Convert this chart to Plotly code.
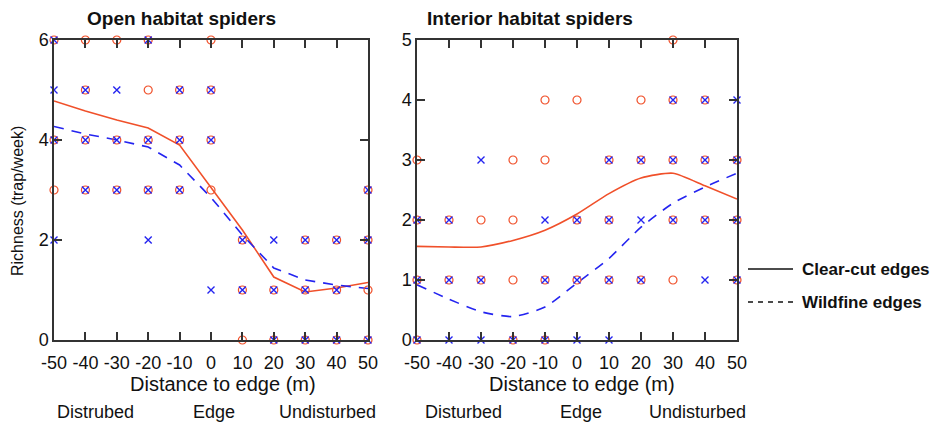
import plotly.graph_objects as go

W, H = 940, 422

distances = [-50, -40, -30, -20, -10, 0, 10, 20, 30, 40, 50]
x_tick_text = ["-50", "-40", "-30", "-20", "-10", "0", "10", "20", "30", "40", "50"]
open_y_ticks = [0, 2, 4, 6]
int_y_ticks = [0, 1, 2, 3, 4, 5]

# Open habitat spiders: individual trap richness values per distance
open_clear_pts = {-50: [6, 4, 3], -40: [6, 5, 4, 3], -30: [6, 4, 3], -20: [6, 5, 4, 3],
                  -10: [5, 4, 3], 0: [6, 5, 4, 3], 10: [2, 1, 0], 20: [1, 0],
                  30: [2, 1, 0], 40: [2, 1, 0], 50: [3, 2, 1, 0]}
open_wild_pts = {-50: [6, 5, 4, 2], -40: [5, 4, 3], -30: [5, 4, 3], -20: [6, 4, 3, 2],
                 -10: [5, 4, 3], 0: [5, 4, 1], 10: [2, 1], 20: [2, 1, 0],
                 30: [2, 1, 0], 40: [2, 1, 0], 50: [3, 2, 0]}
open_clear_fit = [4.78, 4.58, 4.40, 4.24, 3.90, 3.05, 2.20, 1.26, 0.96, 1.04, 1.15]
open_wild_fit = [4.27, 4.12, 4.00, 3.86, 3.50, 2.85, 2.10, 1.44, 1.20, 1.10, 1.03]

# Interior habitat spiders
int_clear_pts = {-50: [3, 2, 1, 0], -40: [2, 1], -30: [2, 1], -20: [3, 2, 1, 0],
                 -10: [4, 3, 1, 0], 0: [4, 2, 1], 10: [3, 2, 1], 20: [4, 3, 1],
                 30: [5, 4, 3, 2, 1], 40: [4, 3, 2], 50: [3, 2, 1]}
int_wild_pts = {-50: [2, 1, 0], -40: [2, 1, 0], -30: [3, 1, 0], -20: [0],
                -10: [2, 1, 0], 0: [2, 1, 0], 10: [3, 2, 1, 0], 20: [3, 2, 1],
                30: [4, 3, 2], 40: [4, 3, 2, 1], 50: [4, 3, 2, 1]}
int_clear_fit = [1.56, 1.55, 1.55, 1.66, 1.83, 2.10, 2.44, 2.70, 2.78, 2.57, 2.35]
int_wild_fit = [0.92, 0.68, 0.47, 0.39, 0.55, 0.95, 1.36, 1.88, 2.28, 2.55, 2.78]

panel_titles = ["Open habitat spiders", "Interior habitat spiders"]
bottom_labels = [["Distrubed", "Edge", "Undisturbed"], ["Disturbed", "Edge", "Undisturbed"]]
legend_labels = ["Clear-cut edges", "Wildfine edges"]
x_title = "Distance to edge (m)"
y_title = "Richness (trap/week)"

RED = "#F0502A"
BLUE = "#2424F0"
AX = "#333333"
FONT = "Liberation Sans, Arial, sans-serif"


def flatten(d):
    xs, ys = [], []
    for k, vals in d.items():
        for v in vals:
            xs.append(k)
            ys.append(v)
    return xs, ys


fig = go.Figure()

panels = [
    ("x", "y", open_clear_pts, open_wild_pts, open_clear_fit, open_wild_fit, "linear"),
    ("x2", "y2", int_clear_pts, int_wild_pts, int_clear_fit, int_wild_fit, "spline"),
]
for xa, ya, cpts, wpts, cfit, wfit, shape in panels:
    cx, cy = flatten(cpts)
    wx, wy = flatten(wpts)
    fig.add_trace(go.Scatter(x=distances, y=cfit, mode="lines", xaxis=xa, yaxis=ya,
                             line=dict(color=RED, width=1.6, shape=shape, smoothing=0.6),
                             showlegend=False, cliponaxis=False))
    fig.add_trace(go.Scatter(x=distances, y=wfit, mode="lines", xaxis=xa, yaxis=ya,
                             line=dict(color=BLUE, width=1.6, dash="10px,8px", shape=shape, smoothing=0.6),
                             showlegend=False, cliponaxis=False))
    fig.add_trace(go.Scatter(x=cx, y=cy, mode="markers", xaxis=xa, yaxis=ya,
                             marker=dict(symbol="circle-open", size=8, color=RED,
                                         line=dict(width=1.2, color=RED)),
                             showlegend=False, cliponaxis=False))
    fig.add_trace(go.Scatter(x=wx, y=wy, mode="markers", xaxis=xa, yaxis=ya,
                             marker=dict(symbol="x-thin-open", size=7, color=BLUE,
                                         line=dict(width=1.4, color=BLUE)),
                             showlegend=False, cliponaxis=False))

ydom = [1 - 340 / H, 1 - 40 / H]
xdom1 = [54 / W, 368 / W]
xdom2 = [417 / W, 737 / W]

axis_common = dict(showline=True, linecolor=AX, linewidth=1.5, mirror="ticks",
                   ticks="inside", ticklen=8, tickwidth=1.5, tickcolor=AX,
                   showgrid=False, zeroline=False, automargin=False, tickangle=0,
                   tickfont=dict(family=FONT, size=18, color="#111111"))

fig.update_layout(
    width=W, height=H, margin=dict(l=0, r=0, t=0, b=0, autoexpand=False),
    paper_bgcolor="white", plot_bgcolor="white",
    font=dict(family=FONT, color="#111111"),
    xaxis=dict(domain=xdom1, range=[-50, 50], tickvals=distances, ticktext=x_tick_text,
               anchor="y", ticklabelstandoff=6, **axis_common),
    yaxis=dict(domain=ydom, range=[0, 6], tickvals=open_y_ticks,
               ticktext=[str(v) for v in open_y_ticks], anchor="x", **axis_common),
    xaxis2=dict(domain=xdom2, range=[-50, 50], tickvals=distances, ticktext=x_tick_text,
                anchor="y2", ticklabelstandoff=6, **axis_common),
    yaxis2=dict(domain=ydom, range=[0, 5], tickvals=int_y_ticks,
                ticktext=[str(v) for v in int_y_ticks], anchor="x2", **axis_common),
)

ann = []
# panel titles
ann.append(dict(x=85 / W, y=1 - 18 / H, text="<b>" + panel_titles[0] + "</b>", xref="paper", yref="paper",
                xanchor="left", yanchor="middle", showarrow=False, font=dict(size=19, family=FONT, color="#111")))
ann.append(dict(x=425 / W, y=1 - 18 / H, text="<b>" + panel_titles[1] + "</b>", xref="paper", yref="paper",
                xanchor="left", yanchor="middle", showarrow=False, font=dict(size=19, family=FONT, color="#111")))
# x titles
for cx in [223, 582]:
    ann.append(dict(x=cx / W, y=1 - 384 / H, text=x_title, xref="paper", yref="paper",
                    xanchor="center", yanchor="middle", showarrow=False,
                    font=dict(size=20, family=FONT, color="#111")))
# y title
ann.append(dict(x=17 / W, y=1 - 201 / H, text=y_title, textangle=-90, xref="paper", yref="paper",
                xanchor="center", yanchor="middle", showarrow=False,
                font=dict(size=16, family=FONT, color="#111")))
# bottom labels
for labels, centers in zip(bottom_labels, [[95, 214, 327], [463, 581, 697]]):
    for lab, cx in zip(labels, centers):
        ann.append(dict(x=cx / W, y=1 - 412 / H, text=lab, xref="paper", yref="paper",
                        xanchor="center", yanchor="middle", showarrow=False,
                        font=dict(size=18, family=FONT, color="#111")))
# legend
for lab, ly in zip(legend_labels, [269, 302]):
    ann.append(dict(x=800 / W, y=1 - ly / H, text="<b>" + lab + "</b>", xref="paper", yref="paper",
                    xanchor="left", yanchor="middle", showarrow=False,
                    font=dict(size=17, family=FONT, color="#111")))
fig.update_layout(annotations=ann)

fig.add_shape(type="line", xref="paper", yref="paper", x0=748 / W, x1=793 / W,
              y0=1 - 269 / H, y1=1 - 269 / H, line=dict(color="#111", width=1.6))
fig.add_shape(type="line", xref="paper", yref="paper", x0=748 / W, x1=793 / W,
              y0=1 - 302 / H, y1=1 - 302 / H, line=dict(color="#111", width=1.6, dash="5px,5px"))

fig.write_html("out.html")
